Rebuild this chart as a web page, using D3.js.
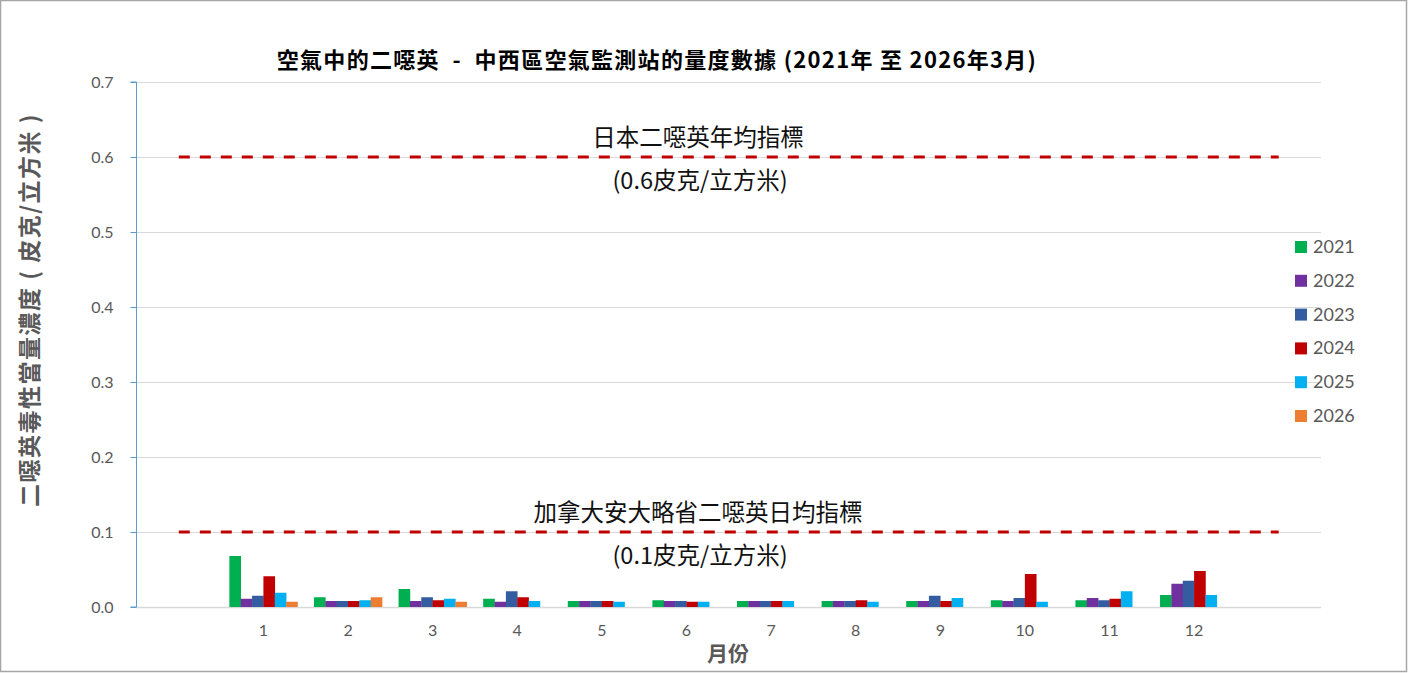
<!DOCTYPE html>
<html><head><meta charset="utf-8">
<script src="https://cdn.jsdelivr.net/npm/d3@7"></script>
<style>body{margin:0;background:#fff;}svg{display:block;}</style>
</head><body>
<svg id="c" width="1409" height="673"></svg>
<script>
const months = ["", "1","2","3","4","5","6","7","8","9","10","11","12", " "];
const years = ["2021","2022","2023","2024","2025","2026"];
const colors = ["#00B050","#7030A0","#335DA0","#C00000","#00B0F0","#ED7D31"];
const v2021 = [0.068,0.013,0.024,0.011,0.008,0.009,0.008,0.008,0.008,0.009,0.009,0.016];
const v2022 = [0.011,0.008,0.008,0.007,0.008,0.008,0.008,0.008,0.008,0.008,0.012,0.031];
const v2023 = [0.015,0.008,0.013,0.021,0.008,0.008,0.008,0.008,0.015,0.012,0.009,0.035];
const v2024 = [0.041,0.008,0.009,0.013,0.008,0.007,0.008,0.009,0.008,0.044,0.011,0.048];
const v2025 = [0.019,0.009,0.011,0.008,0.007,0.007,0.008,0.007,0.012,0.007,0.021,0.016];
const v2026 = [0.007,0.013,0.007];
const series = [v2021,v2022,v2023,v2024,v2025,v2026];
const yTicks = [0,0.1,0.2,0.3,0.4,0.5,0.6,0.7];
const guides = [
  {value:0.6, line1:"日本二噁英年均指標", line2:"(0.6皮克/立方米)"},
  {value:0.1, line1:"加拿大安大略省二噁英日均指標", line2:"(0.1皮克/立方米)"}
];
const title = "空氣中的二噁英  -  中西區空氣監測站的量度數據 (2021年 至 2026年3月)";
const yTitle = "二噁英毒性當量濃度 ( 皮克/立方米 )";
const xTitle = "月份";

const svg = d3.select("#c");
const L=136.5, R=1321, T=82, B=607;
const x = d3.scaleBand().domain(months).range([L,R]).paddingInner(0).paddingOuter(0);
const y = d3.scaleLinear().domain([0,0.7]).range([B,T]);
const groupW = x.bandwidth()*0.805;
const x1 = d3.scaleBand().domain(years).range([0,groupW]);

// border
svg.append("rect").attr("x",0.5).attr("y",0.5).attr("width",1406).attr("height",671)
  .attr("fill","#fff").attr("stroke","#A6A6A6").attr("stroke-width",1.5);

// gridlines
svg.append("g").selectAll("line").data(yTicks.filter(d=>d>0)).join("line")
  .attr("x1",L).attr("x2",R).attr("y1",d=>Math.round(y(d))+0.5).attr("y2",d=>Math.round(y(d))+0.5)
  .attr("stroke","#D9D9D9").attr("stroke-width",1);
// x baseline
svg.append("line").attr("x1",L).attr("x2",R).attr("y1",B+0.5).attr("y2",B+0.5)
  .attr("stroke","#D9D9D9").attr("stroke-width",1.5);

// y axis
const yAxis = d3.axisLeft(y).tickValues(yTicks).tickFormat(d3.format(".1f")).tickSize(6).tickPadding(17);
const gy = svg.append("g").attr("transform",`translate(${L},0)`).call(yAxis);
gy.select(".domain").attr("stroke","#5B9BD5").attr("d",`M-6,${T}H0V${B}H-6`);
gy.selectAll(".tick line").attr("stroke","#5B9BD5");
gy.selectAll(".tick text").attr("fill","#595959").style("font-family","Lato, 'Noto Sans'").style("font-size","16px");

// x axis labels
const xAxis = d3.axisBottom(x).tickSize(0).tickPadding(18);
const gx = svg.append("g").attr("transform",`translate(0,${B})`).call(xAxis);
gx.select(".domain").remove();
gx.selectAll(".tick text").attr("fill","#595959").style("font-family","Lato, 'Noto Sans'").style("font-size","16px");

// bars
series.forEach((vals,si)=>{
  svg.append("g").selectAll("rect").data(vals).join("rect")
    .attr("x",(d,i)=>x(months[i+1]) + (x.bandwidth()-groupW)/2 + x1(years[si]))
    .attr("width",x1.bandwidth()+0.3)
    .attr("y",d=>y(d)).attr("height",d=>y(0)-y(d))
    .attr("fill",colors[si]);
});

// guide lines
guides.forEach(g=>{
  svg.append("line")
    .attr("x1",x(months[0])+x.bandwidth()/2).attr("x2",x(months[months.length-1])+x.bandwidth()/2)
    .attr("y1",y(g.value)).attr("y2",y(g.value))
    .attr("stroke","#C00000").attr("stroke-width",3.2).attr("stroke-dasharray","11,10");
  svg.append("text").attr("x",698).attr("y",y(g.value)-11).attr("text-anchor","middle")
    .style("font-family","'Noto Sans CJK TC', sans-serif").style("font-size","23.5px").attr("fill","#111")
    .text(g.line1);
  svg.append("text").attr("x",700).attr("y",y(g.value)+32).attr("text-anchor","middle")
    .style("font-family","'Noto Sans CJK TC', sans-serif").style("font-size","23.5px").attr("fill","#111")
    .text(g.line2);
});

// legend
const lg = svg.append("g");
years.forEach((yr,i)=>{
  const cy = 247 + i*33.8;
  lg.append("rect").attr("x",1295).attr("y",cy-6).attr("width",12).attr("height",12).attr("fill",colors[i]);
  lg.append("text").attr("x",1313).attr("y",cy+6).attr("fill","#595959")
    .style("font-family","Lato, 'Noto Sans'").style("font-size","18px").text(yr);
});

// title
svg.append("text").attr("x",657).attr("y",68).attr("text-anchor","middle")
  .style("font-family","'Noto Sans CJK TC', sans-serif").style("font-weight","bold").style("font-size","22px")
  .style("letter-spacing","1.3px")
  .attr("fill","#000").style("white-space","pre").attr("xml:space","preserve").text(title);

// y title
svg.append("text").attr("transform","translate(38,310) rotate(-90)").attr("text-anchor","middle")
  .style("font-family","'Noto Sans CJK TC', sans-serif").style("font-weight","bold").style("font-size","23px")
  .style("letter-spacing","1.5px")
  .attr("fill","#595959").style("white-space","pre").text(yTitle);

// x title
svg.append("text").attr("x",728).attr("y",661).attr("text-anchor","middle")
  .style("font-family","'Noto Sans CJK TC', sans-serif").style("font-weight","bold").style("font-size","21px")
  .attr("fill","#595959").text(xTitle);
</script>
</body></html>
